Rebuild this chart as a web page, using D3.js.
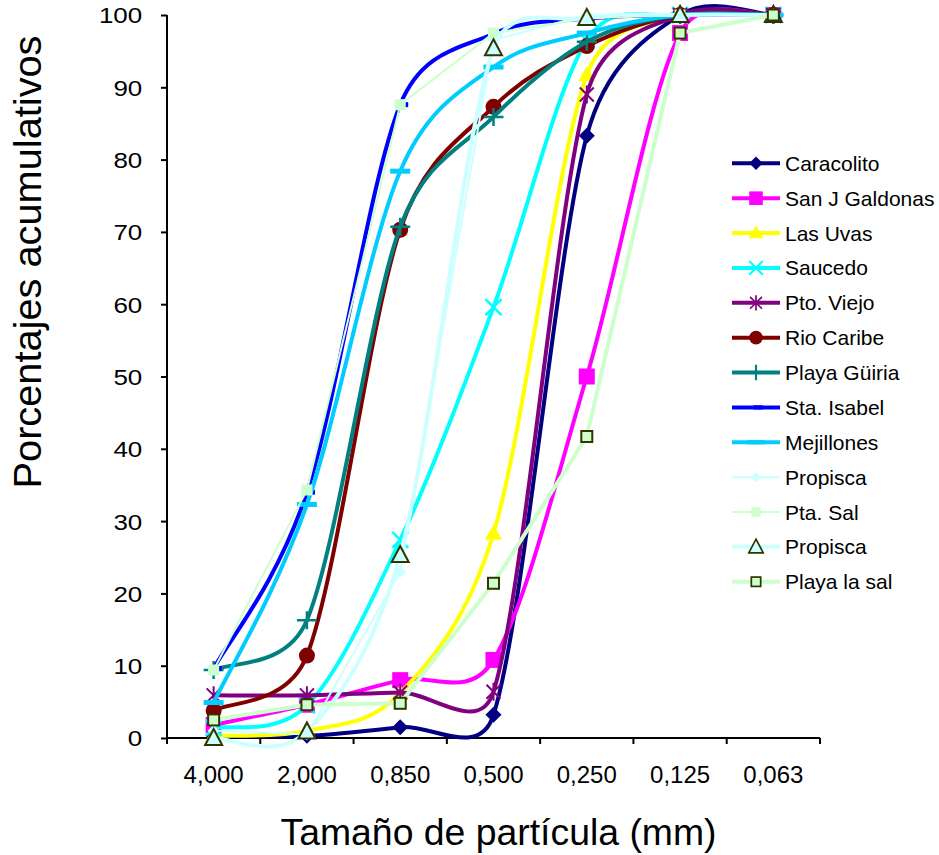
<!DOCTYPE html>
<html><head><meta charset="utf-8">
<script src="https://cdn.jsdelivr.net/npm/d3@7"></script>
<style>
body{margin:0;background:#fff}
svg{display:block}
text{font-family:"Liberation Sans",Arial,sans-serif;fill:#000}
</style>
</head><body>
<svg id="chart" width="939" height="855"></svg>
<script>
// ---------- DATA ----------
const categories = ["4,000","2,000","0,850","0,500","0,250","0,125","0,063"];
const yTicks = [0,10,20,30,40,50,60,70,80,90,100];

const caracolito   = [0.3, 0.3, 1.5, 3.2, 83.3, 100, 100];
const sanJGaldonas = [1.8, 4.6, 8.0, 10.8, 50.0, 97.5, 100];
const lasUvas      = [0.3, 1.0, 6.2, 28.3, 91.7, 100, 100];
const saucedo      = [1.4, 4.5, 27.4, 59.6, 96.5, 100, 100];
const ptoViejo     = [5.9, 5.9, 6.3, 6.4, 89.0, 100, 100];
const rioCaribe    = [3.8, 11.4, 70.3, 87.3, 95.7, 100, 100];
const playaGuiria  = [9.4, 16.3, 70.7, 85.9, 96.3, 100, 100];
const staIsabel    = [9.6, 34.0, 87.6, 97.4, 99.5, 100, 100];
const mejillones   = [4.9, 32.3, 78.4, 92.8, 97.5, 100, 100];
const propisca1    = [1.0, 0.5, 23.0, 96.5, 100, 100, 100];
const ptaSal       = [9.4, 34.3, 87.6, 97.5, 99.5, 100, 100];
const propisca2    = [0.0, 0.9, 25.3, 95.4, 99.6, 100, 100];
const playaLaSal   = [2.5, 4.6, 4.8, 21.4, 41.7, 97.5, 100];

const seriesNames = ["Caracolito","San J Galdonas","Las Uvas","Saucedo","Pto. Viejo","Rio Caribe",
  "Playa Güiria","Sta. Isabel","Mejillones","Propisca","Pta. Sal","Propisca","Playa la sal"];
const seriesValues = [caracolito,sanJGaldonas,lasUvas,saucedo,ptoViejo,rioCaribe,
  playaGuiria,staIsabel,mejillones,propisca1,ptaSal,propisca2,playaLaSal];

// ---------- STYLES ----------
const styles = [
  {color:"#000080", w:4, m:"diamond",   smooth:true},
  {color:"#FF00FF", w:4, m:"square",    smooth:true},
  {color:"#FFFF00", w:4, m:"triangle",  smooth:true},
  {color:"#00FFFF", w:4, m:"x",         smooth:true},
  {color:"#800080", w:4, m:"asterisk",  smooth:true},
  {color:"#800000", w:4, m:"circle",    smooth:true},
  {color:"#008080", w:4, m:"plus",      smooth:true},
  {color:"#0000FF", w:4, m:"dashS",     smooth:true},
  {color:"#00CCFF", w:4, m:"dashL",     smooth:true},
  {color:"#CCFFFF", w:2, m:"diamondS",  smooth:false},
  {color:"#CCFFCC", w:2, m:"squareS",   smooth:false},
  {color:"#CCFFFF", w:4, m:"triOutline",smooth:true},
  {color:"#CCFFCC", w:4, m:"sqOutline", smooth:false}
];

// ---------- EXCEL-LIKE SMOOTH CURVE ----------
function CurveExcel(ctx){ this._context = ctx; }
CurveExcel.prototype = {
  areaStart(){}, areaEnd(){},
  lineStart(){ this._pts = []; },
  point(x,y){ this._pts.push([+x,+y]); },
  lineEnd(){
    const pts = this._pts, n = pts.length, c = this._context;
    if(!n) return;
    c.moveTo(pts[0][0], pts[0][1]);
    const f = 1/6, dist=(a,b)=>Math.hypot(a[0]-b[0],a[1]-b[1]);
    for(let i=0;i<n-1;i++){
      const P0=pts[Math.max(i-1,0)], P1=pts[i], P2=pts[i+1], P3=pts[Math.min(i+2,n-1)];
      const d12=dist(P1,P2), d02=dist(P0,P2), d13=dist(P1,P3);
      const f1 = d02>0 ? Math.min(f, 0.5*d12/d02) : 0;
      const f2 = d13>0 ? Math.min(f, 0.5*d12/d13) : 0;
      c.bezierCurveTo(P1[0]+f1*(P2[0]-P0[0]), P1[1]+f1*(P2[1]-P0[1]),
                      P2[0]-f2*(P3[0]-P1[0]), P2[1]-f2*(P3[1]-P1[1]), P2[0], P2[1]);
    }
  }
};
const curveExcel = ctx => new CurveExcel(ctx);

// ---------- LAYOUT ----------
const svg = d3.select("#chart");
const plot = {left:167, right:820, top:15, bottom:738};
const x = d3.scaleBand().domain(categories).range([plot.left, plot.right]);
const cx = c => x(c) + x.bandwidth()/2;
const y = d3.scaleLinear().domain([0,100]).range([plot.bottom, plot.top]);

// ---------- MARKERS ----------
function drawMarker(g, type, color, px, py, s){
  s = s || 1;
  const gg = g.append("g").attr("transform", `translate(${px},${py}) scale(${s})`);
  switch(type){
    case "diamond":
      gg.append("path").attr("d","M0,-8L8,0L0,8L-8,0Z").attr("fill",color); break;
    case "diamondS":
      gg.append("path").attr("d","M0,-6L6,0L0,6L-6,0Z").attr("fill",color); break;
    case "square":
      gg.append("rect").attr("x",-8).attr("y",-8).attr("width",16).attr("height",16).attr("fill",color); break;
    case "squareS":
      gg.append("rect").attr("x",-5.5).attr("y",-5.5).attr("width",11).attr("height",11).attr("fill",color); break;
    case "triangle":
      gg.append("path").attr("d","M0,-9L8.5,6L-8.5,6Z").attr("fill",color); break;
    case "x":
      gg.append("path").attr("d","M-8,-8L8,8M-8,8L8,-8").attr("stroke",color).attr("stroke-width",2.5).attr("fill","none"); break;
    case "asterisk":
      gg.append("path").attr("d","M-7,-7L7,7M-7,7L7,-7M0,-9L0,9").attr("stroke",color).attr("stroke-width",2).attr("fill","none"); break;
    case "circle":
      gg.append("circle").attr("r",8).attr("fill",color); break;
    case "plus":
      gg.append("path").attr("d","M-10,0L10,0M0,-9L0,9").attr("stroke",color).attr("stroke-width",2.5).attr("fill","none"); break;
    case "dashS":
      gg.append("rect").attr("x",-3).attr("y",-2.5).attr("width",11).attr("height",5).attr("fill",color); break;
    case "dashL":
      gg.append("rect").attr("x",-10).attr("y",-2.5).attr("width",20).attr("height",5).attr("fill",color); break;
    case "triOutline":
      gg.append("path").attr("d","M0,-9L8.5,7L-8.5,7Z").attr("fill","#CCFFFF").attr("stroke","#333300").attr("stroke-width",2); break;
    case "sqOutline":
      gg.append("rect").attr("x",-5.5).attr("y",-5.5).attr("width",11).attr("height",11).attr("fill","#CCFFCC").attr("stroke","#333300").attr("stroke-width",2); break;
  }
}

// ---------- AXES ----------
const yAxis = svg.append("g").attr("transform",`translate(${plot.left},0)`)
  .call(d3.axisLeft(y).tickValues(yTicks).tickSize(6).tickPadding(8).tickFormat(d3.format("d")));
yAxis.select(".domain").attr("stroke","#000").attr("stroke-width",2).attr("d",`M-0,${plot.top}V${plot.bottom}`);
yAxis.selectAll(".tick line").attr("stroke","#000").attr("stroke-width",2);
yAxis.selectAll(".tick text").attr("font-size",22).attr("font-family","Liberation Sans, Arial, sans-serif")
  .attr("fill","#000").attr("x",-21).attr("dy","0.36em")
  .attr("transform","scale(1.18,1)");

const xAxis = svg.append("g").attr("transform",`translate(0,${plot.bottom})`)
  .call(d3.axisBottom(x).tickSize(0).tickPadding(28));
xAxis.select(".domain").attr("stroke","#000").attr("stroke-width",2).attr("d",`M${plot.left},0H${plot.right}`);
xAxis.selectAll(".tick text").attr("font-size",24).attr("font-family","Liberation Sans, Arial, sans-serif").attr("fill","#000");
// boundary ticks
const bounds = categories.map(c=>x(c)).concat([plot.right]);
xAxis.selectAll("line.btick").data(bounds).enter().append("line").attr("class","btick")
  .attr("x1",d=>d).attr("x2",d=>d).attr("y1",0).attr("y2",6).attr("stroke","#000").attr("stroke-width",2);

// axis titles
svg.append("text").attr("x",(plot.left+plot.right)/2+5).attr("y",845).attr("text-anchor","middle")
  .attr("font-size",36).attr("textLength",436).attr("lengthAdjust","spacingAndGlyphs")
  .text("Tamaño de partícula (mm)");
svg.append("text").attr("transform","translate(41,262) rotate(-90)").attr("text-anchor","middle")
  .attr("font-size",38).attr("textLength",453).attr("lengthAdjust","spacingAndGlyphs")
  .text("Porcentajes acumulativos");

// ---------- SERIES ----------
const smoothLine = d3.line().x((d,i)=>cx(categories[i])).y(d=>y(d)).curve(curveExcel);
const straightLine = d3.line().x((d,i)=>cx(categories[i])).y(d=>y(d)).curve(d3.curveLinear);
const seriesG = svg.append("g");
seriesValues.forEach((vals,k)=>{
  const st = styles[k];
  const g = seriesG.append("g");
  g.append("path").attr("d", (st.smooth ? smoothLine : straightLine)(vals)).attr("fill","none").attr("stroke",st.color)
    .attr("stroke-width",st.w).attr("stroke-linejoin","round");
  vals.forEach((v,i)=> drawMarker(g, st.m, st.color, cx(categories[i]), y(v)));
});

// ---------- LEGEND ----------
const legend = svg.append("g");
seriesNames.forEach((name,k)=>{
  const st = styles[k];
  const ly = 163.3 + k*34.87;
  const g = legend.append("g");
  g.append("line").attr("x1",732).attr("x2",780).attr("y1",ly).attr("y2",ly)
    .attr("stroke",st.color).attr("stroke-width",st.w);
  drawMarker(g, st.m, st.color, 756, ly, 0.85);
  g.append("text").attr("x",785).attr("y",ly).attr("dy","0.36em").attr("font-size",21).text(name);
});
</script>
</body></html>
